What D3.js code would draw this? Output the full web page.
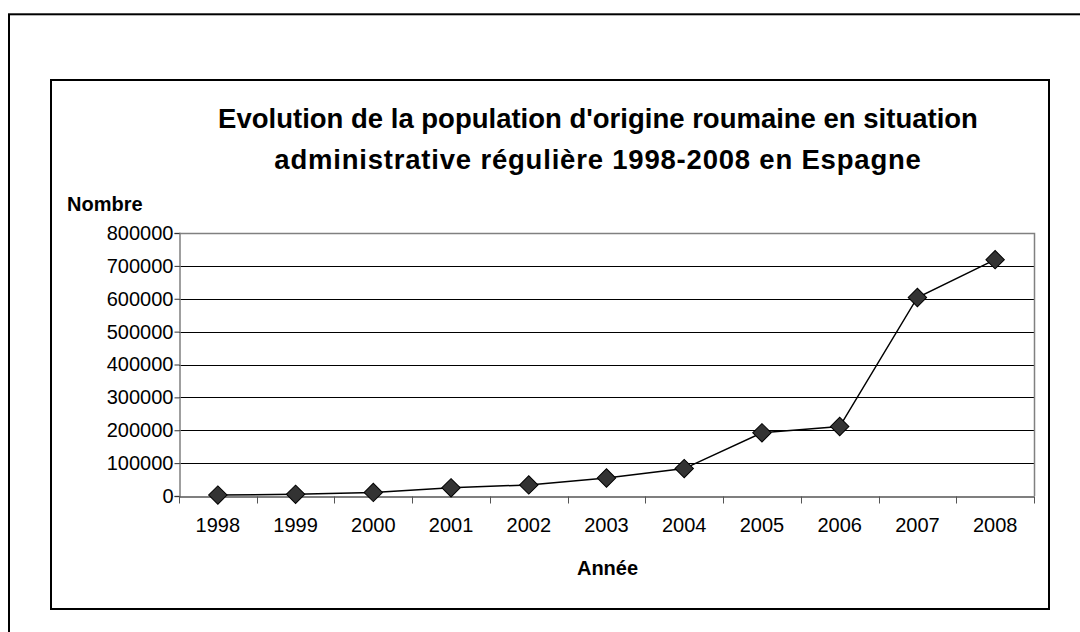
<!DOCTYPE html>
<html>
<head>
<meta charset="utf-8">
<script src="https://cdn.jsdelivr.net/npm/d3@7"></script>
<style>
  body { margin: 0; background: #fff; }
  svg { display: block; font-family: "Liberation Sans", Arial, sans-serif; }
</style>
</head>
<body>
<svg id="chart" width="1080" height="632"></svg>
<script>
// data
var years = ["1998", "1999", "2000", "2001", "2002", "2003", "2004", "2005", "2006", "2007", "2008"];
var population = [2785, 5082, 10983, 24856, 33705, 54688, 83372, 192134, 211325, 603889, 718844];
var yTicks = [0, 100000, 200000, 300000, 400000, 500000, 600000, 700000, 800000];

var titleLines = [
    "Evolution de la population d'origine roumaine en situation",
    "administrative régulière 1998-2008 en Espagne"
];
var yLabel = "Nombre";
var xLabel = "Année";

var svg = d3.select("#chart");

// page frame and chart frame
svg.append("rect")
    .attr("x", 9).attr("y", 14.3)
    .attr("width", 1200).attr("height", 800)
    .attr("fill", "none").attr("stroke", "#000").attr("stroke-width", 2);

svg.append("rect")
    .attr("x", 51).attr("y", 80)
    .attr("width", 998).attr("height", 529)
    .attr("fill", "#fff").attr("stroke", "#000").attr("stroke-width", 2);

var plot = { left: 179, top: 233, right: 1034, bottom: 496 };

var x = d3.scaleBand()
    .domain(years)
    .range([plot.left, plot.right]);

var y = d3.scaleLinear()
    .domain([0, 800000])
    .range([plot.bottom, plot.top]);

// title, two centred lines (second one is set a bit looser in the original)
svg.append("g").selectAll("text")
    .data(titleLines)
    .enter().append("text")
    .attr("x", 598)
    .attr("y", function(d, i) { return 128 + i * 41; })
    .attr("text-anchor", "middle")
    .attr("font-size", 27.5)
    .attr("font-weight", "bold")
    .attr("letter-spacing", function(d, i) { return i ? 0.8 : 0; })
    .text(function(d) { return d; });

// gridlines
svg.append("g").selectAll("line")
    .data(yTicks.filter(function(d) { return d > 0 && d < 800000; }))
    .enter().append("line")
    .attr("x1", plot.left).attr("x2", plot.right)
    .attr("y1", function(d) { return Math.round(y(d)) + 0.5; })
    .attr("y2", function(d) { return Math.round(y(d)) + 0.5; })
    .attr("stroke", "#000").attr("stroke-width", 1);

// plot area border (top and right)
svg.append("path")
    .attr("d", "M" + plot.left + "," + (plot.top + 0.5) + "H" + (plot.right + 0.5) + "V" + plot.bottom)
    .attr("fill", "none").attr("stroke", "#808080").attr("stroke-width", 1.5);

// y axis
var yAxis = svg.append("g")
    .attr("transform", "translate(" + (plot.left + 0.5) + ",0)")
    .call(d3.axisLeft(y).tickValues(yTicks).tickSize(5).tickPadding(1).tickFormat(d3.format("d")));
yAxis.select(".domain").attr("stroke", "#808080").attr("stroke-width", 1.5);
yAxis.selectAll(".tick line").attr("stroke", "#333");
yAxis.selectAll("text")
    .attr("font-family", "Liberation Sans, Arial, sans-serif")
    .attr("font-size", 20).attr("fill", "#000");

// x axis, ticks sit between categories
var xAxis = svg.append("g")
    .attr("transform", "translate(0," + (plot.bottom + 0.5) + ")")
    .call(d3.axisBottom(x).tickSize(0).tickPadding(21));
xAxis.select(".domain").attr("stroke", "#555").attr("stroke-width", 1.5);
xAxis.selectAll("text")
    .attr("font-family", "Liberation Sans, Arial, sans-serif")
    .attr("font-size", 20).attr("fill", "#000");

var bounds = years.map(function(d) { return x(d); }).concat([plot.right]);
xAxis.selectAll(".sep")
    .data(bounds)
    .enter().append("line")
    .attr("class", "sep")
    .attr("x1", function(d) { return Math.round(d) + 0.5; })
    .attr("x2", function(d) { return Math.round(d) + 0.5; })
    .attr("y1", 0).attr("y2", 7)
    .attr("stroke", "#555");

// axis titles
svg.append("text")
    .attr("x", 67).attr("y", 211)
    .attr("font-size", 20).attr("font-weight", "bold")
    .text(yLabel);

svg.append("text")
    .attr("x", (plot.left + plot.right) / 2 + 1).attr("y", 575)
    .attr("text-anchor", "middle")
    .attr("font-size", 20).attr("font-weight", "bold")
    .text(xLabel);

// line and markers
var cx = function(d, i) { return x(years[i]) + x.bandwidth() / 2; };

var line = d3.line()
    .x(cx)
    .y(function(d) { return y(d); });

svg.append("path")
    .datum(population)
    .attr("d", line)
    .attr("fill", "none").attr("stroke", "#000").attr("stroke-width", 1.5);

var diamond = d3.symbol().type(d3.symbolSquare).size(170);

svg.append("g").selectAll("path")
    .data(population)
    .enter().append("path")
    .attr("d", diamond)
    .attr("transform", function(d, i) { return "translate(" + cx(d, i) + "," + y(d) + ") rotate(45)"; })
    .attr("fill", "#333").attr("stroke", "#000").attr("stroke-width", 1);
</script>
</body>
</html>
